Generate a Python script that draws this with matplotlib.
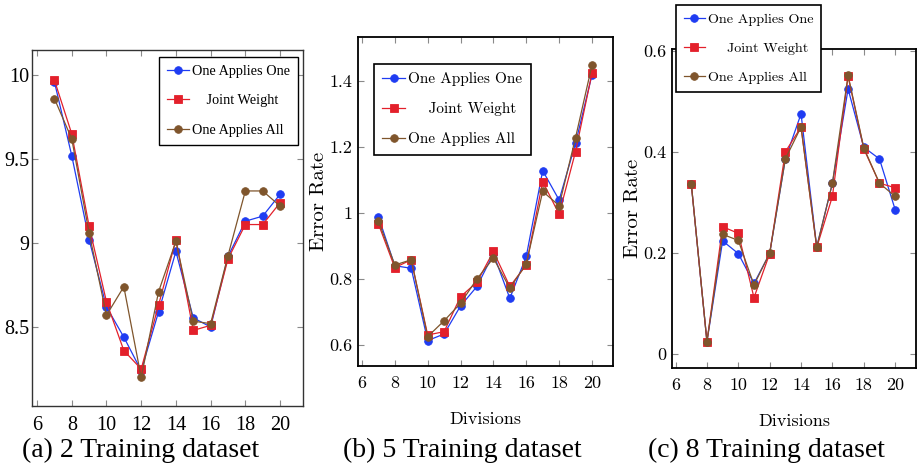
import matplotlib
matplotlib.use("Agg")
import matplotlib.pyplot as plt

divisions = [7, 8, 9, 10, 11, 12, 13, 14, 15, 16, 17, 18, 19, 20]
series_names = ["One Applies One", "Joint Weight", "One Applies All"]

# (a) 2 Training dataset
a_one_one = [9.96, 9.52, 9.02, 8.62, 8.44, 8.24, 8.59, 8.95, 8.555, 8.50, 8.92, 9.13, 9.16, 9.29]
a_joint = [9.97, 9.65, 9.10, 8.65, 8.36, 8.25, 8.63, 9.02, 8.48, 8.51, 8.905, 9.11, 9.11, 9.24]
a_one_all = [9.86, 9.62, 9.06, 8.57, 8.74, 8.20, 8.71, 9.01, 8.535, 8.52, 8.925, 9.31, 9.31, 9.22]

# (b) 5 Training dataset
b_one_one = [0.989, 0.840, 0.832, 0.613, 0.633, 0.718, 0.777, 0.876, 0.741, 0.868, 1.128, 1.039, 1.211, 1.418]
b_joint = [0.967, 0.834, 0.858, 0.630, 0.640, 0.746, 0.790, 0.883, 0.777, 0.842, 1.095, 0.996, 1.186, 1.423]
b_one_all = [0.976, 0.842, 0.858, 0.625, 0.673, 0.726, 0.800, 0.863, 0.772, 0.845, 1.065, 1.022, 1.228, 1.448]

# (c) 8 Training dataset
c_one_one = [0.337, 0.025, 0.224, 0.199, 0.140, 0.199, 0.386, 0.475, 0.212, 0.338, 0.524, 0.409, 0.386, 0.286]
c_joint = [0.337, 0.025, 0.252, 0.239, 0.112, 0.199, 0.400, 0.449, 0.211, 0.312, 0.549, 0.406, 0.338, 0.329]
c_one_all = [0.337, 0.025, 0.237, 0.225, 0.137, 0.200, 0.386, 0.449, 0.212, 0.338, 0.551, 0.408, 0.338, 0.312]

x_ticks = [6, 8, 10, 12, 14, 16, 18, 20]
x_ticklabels = ["6", "8", "10", "12", "14", "16", "18", "20"]
a_yticks = [8.5, 9, 9.5, 10]
a_yticklabels = ["8.5", "9", "9.5", "10"]
b_yticks = [0.6, 0.8, 1.0, 1.2, 1.4]
b_yticklabels = ["0.6", "0.8", "1", "1.2", "1.4"]
c_yticks = [0, 0.2, 0.4, 0.6]
c_yticklabels = ["0", "0.2", "0.4", "0.6"]
captions = ["(a) 2 Training dataset", "(b) 5 Training dataset", "(c) 8 Training dataset"]
x_label = "Divisions"
y_label = "Error Rate"

colors = ["#1f3cf2", "#e3202b", "#7f552c"]
markers = ["o", "s", "o"]

plt.rcParams["axes.formatter.use_mathtext"] = True

fig = plt.figure(figsize=(9.17, 4.66), dpi=100)

ax_a = fig.add_axes([0.0349, 0.1288, 0.2955, 0.7639])
ax_b = fig.add_axes([0.3904, 0.2146, 0.2781, 0.7060])
ax_c = fig.add_axes([0.7328, 0.2103, 0.2661, 0.6845])

times = "Liberation Serif"
cm = "cmr10"


def draw(ax, data, font, tick_size, spine_color, spine_lw):
    handles = []
    for vals, name, col, mk in zip(data, series_names, colors, markers):
        h, = ax.plot(divisions, vals, color=col, marker=mk, markersize=5.5,
                     linewidth=0.9, markeredgewidth=0.6, label=name)
        handles.append(h)
    ax.set_xticks(x_ticks)
    ax.set_xticklabels(x_ticklabels, fontfamily=font, fontsize=tick_size)
    ax.tick_params(direction="in", top=True, right=True, length=4,
                   color="#8a8a8a", width=0.8)
    for s in ax.spines.values():
        s.set_color(spine_color)
        s.set_linewidth(spine_lw)
    return handles


# panel a
h = draw(ax_a, [a_one_one, a_joint, a_one_all], times, 14.5, "#333333", 1.0)
ax_a.set_xlim(5.71, 21.32)
ax_a.set_ylim(8.03, 10.149)
ax_a.set_yticks(a_yticks)
ax_a.set_yticklabels(a_yticklabels, fontfamily=times, fontsize=14.5)
ax_a.tick_params(axis="x", pad=7)
ax_a.tick_params(axis="y", pad=2)
leg_labels_a = ["One Applies One", "    Joint Weight", "One Applies All"]
leg = ax_a.legend(h, leg_labels_a, loc="upper right", bbox_to_anchor=(0.9815, 0.980),
                  borderaxespad=0, fancybox=False, framealpha=1, edgecolor="black",
                  prop={"family": times, "size": 10.3}, handlelength=1.5,
                  handletextpad=0.25, labelspacing=1.15, borderpad=0.55)
leg.get_frame().set_linewidth(1.0)

# panel b
h = draw(ax_b, [b_one_one, b_joint, b_one_all], cm, 13, "black", 1.3)
ax_b.set_xlim(5.76, 21.28)
ax_b.set_ylim(0.536, 1.533)
ax_b.set_yticks(b_yticks)
ax_b.set_yticklabels(b_yticklabels, fontfamily=cm, fontsize=13)
ax_b.tick_params(axis="x", pad=7)
ax_b.tick_params(axis="y", pad=4)
ax_b.set_xlabel(x_label, fontfamily=cm, fontsize=13, labelpad=15)
ax_b.set_ylabel(y_label, fontfamily=cm, fontsize=15, labelpad=1)
leg_labels_b = ["One Applies One", "    Joint Weight", "One Applies All"]
leg = ax_b.legend(h, leg_labels_b, loc="upper left", bbox_to_anchor=(0.0627, 0.918),
                  borderaxespad=0, fancybox=False, framealpha=1, edgecolor="black",
                  prop={"family": cm, "size": 11}, handlelength=1.5,
                  handletextpad=0.2, labelspacing=1.05, borderpad=0.55)
leg.get_frame().set_linewidth(1.2)

# panel c
h = draw(ax_c, [c_one_one, c_joint, c_one_all], cm, 13, "black", 1.3)
ax_c.set_xlim(5.77, 21.33)
ax_c.set_ylim(-0.027, 0.603)
ax_c.set_yticks(c_yticks)
ax_c.set_yticklabels(c_yticklabels, fontfamily=cm, fontsize=13)
ax_c.tick_params(axis="x", pad=7)
ax_c.tick_params(axis="y", pad=4)
ax_c.set_xlabel(x_label, fontfamily=cm, fontsize=13, labelpad=15)
ax_c.set_ylabel(y_label, fontfamily=cm, fontsize=15, labelpad=1)
leg_labels_c = ["One Applies One", "    Joint Weight", "One Applies All"]
leg = ax_c.legend(h, leg_labels_c, loc="upper left", bbox_to_anchor=(0.0164, 1.138),
                  borderaxespad=0, fancybox=False, framealpha=1, edgecolor="black",
                  prop={"family": cm, "size": 10.2}, handlelength=1.5,
                  handletextpad=0.2, labelspacing=1.15, borderpad=0.55)
leg.get_frame().set_linewidth(1.2)

# captions
for cx, txt in zip([141 / 917, 462 / 917, 766 / 917], captions):
    fig.text(cx, 0.034, txt, ha="center", va="center", fontfamily=times, fontsize=20)

fig.savefig("out.png", dpi=100)
